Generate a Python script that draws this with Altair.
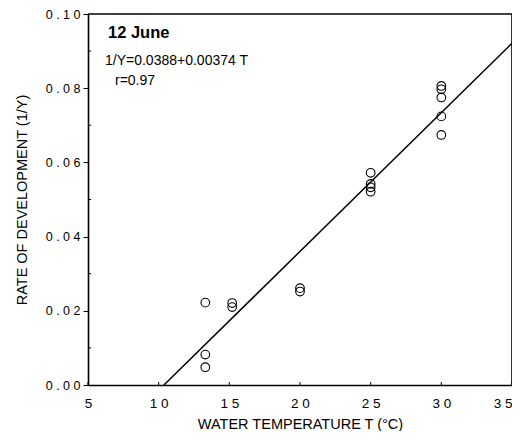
import altair as alt
import pandas as pd

temps = [13.3, 13.3, 13.3, 15.2, 15.2, 20, 20, 25, 25, 25, 25, 30, 30, 30, 30, 30]
rates = [0.0222, 0.0082, 0.0048, 0.0221, 0.0210, 0.0261, 0.0252,
         0.0572, 0.0542, 0.0533, 0.0521, 0.0806, 0.0797, 0.0775, 0.0724, 0.0674]
intercept = -0.0388
slope = 0.00374
line_t = [-intercept / slope, 35]
x_ticks = [5, 10, 15, 20, 25, 30, 35]
y_ticks = [0.0, 0.02, 0.04, 0.06, 0.08, 0.10]
y_minor = [0.01, 0.03, 0.05, 0.07, 0.09]

pts = pd.DataFrame({"T": temps, "R": rates})
ln = pd.DataFrame({"T": line_t, "R": [intercept + slope * t for t in line_t]})
xt = pd.DataFrame({"T": x_ticks})
ym = pd.DataFrame({"R": y_minor})

FONT = "Liberation Sans"
W, H = 425, 372
xs = alt.Scale(domain=[5, 35], nice=False, zero=False)
ys = alt.Scale(domain=[0, 0.10], nice=False)

spaced = "join(split(datum.label, ''), ' ')"

x_axis = alt.Axis(values=x_ticks, title="WATER TEMPERATURE T (°C)", grid=False,
                  tickSize=0, labelPadding=11, labelExpr=spaced,
                  labelAlign=alt.ExprRef("datum.value >= 35 ? 'right' : 'center'"),
                  labelFontSize=13.5, labelFont=FONT, labelFontWeight="normal",
                  labelColor="black", titleColor="black",
                  titleFont=FONT, titleFontSize=14.5, titleFontWeight="normal",
                  titlePadding=8, domain=True, domainColor="black", domainWidth=1.6,
                  labelFlush=False)
y_axis = alt.Axis(values=y_ticks, format=".2f", title="RATE OF DEVELOPMENT (1/Y)",
                  grid=False, tickSize=5, tickColor="black", labelPadding=3,
                  labelExpr=spaced, labelFontSize=12.5, labelFont=FONT,
                  labelColor="black", titleColor="black",
                  labelFontWeight="normal", titleFont=FONT, titleFontSize=14.5,
                  titleFontWeight="normal", titlePadding=16,
                  domain=True, domainColor="black", domainWidth=1.6)

points = alt.Chart(pts).mark_point(shape="circle", size=75, filled=False,
                                   color="black", strokeWidth=1.1, opacity=1).encode(
    x=alt.X("T:Q", scale=xs, axis=x_axis),
    y=alt.Y("R:Q", scale=ys, axis=y_axis),
)

line = alt.Chart(ln).mark_line(color="black", strokeWidth=1.5).encode(
    x=alt.X("T:Q", scale=xs), y=alt.Y("R:Q", scale=ys)
)

xtick = alt.Chart(xt).mark_rule(color="black", strokeWidth=1).encode(
    x=alt.X("T:Q", scale=xs), y=alt.value(H), y2=alt.value(H - 4)
)
ytick = alt.Chart(ym).mark_rule(color="black", strokeWidth=1).encode(
    y=alt.Y("R:Q", scale=ys), x=alt.value(0), x2=alt.value(3)
)

# top and right edges of the frame, drawn on the shared scales' ends
frame_top = alt.Chart(pd.DataFrame({"a": [5], "b": [35], "r": [0.10]})).mark_rule(
    color="black", strokeWidth=1.6
).encode(x=alt.X("a:Q", scale=xs), x2="b:Q", y=alt.Y("r:Q", scale=ys))
frame_right = alt.Chart(pd.DataFrame({"t": [35], "a": [0.0], "b": [0.10]})).mark_rule(
    color="black", strokeWidth=1.6
).encode(x=alt.X("t:Q", scale=xs), y=alt.Y("a:Q", scale=ys), y2="b:Q")

t1 = alt.Chart(pd.DataFrame({"t": ["12 June"]})).mark_text(
    align="left", baseline="alphabetic", font=FONT, fontSize=16.5, fontWeight="bold"
).encode(text="t:N", x=alt.value(20), y=alt.value(24))
t2 = alt.Chart(pd.DataFrame({"t": ["1/Y=0.0388+0.00374 T"]})).mark_text(
    align="left", baseline="alphabetic", font=FONT, fontSize=14
).encode(text="t:N", x=alt.value(17), y=alt.value(51))
t3 = alt.Chart(pd.DataFrame({"t": ["r=0.97"]})).mark_text(
    align="left", baseline="alphabetic", font=FONT, fontSize=14
).encode(text="t:N", x=alt.value(27), y=alt.value(71))

chart = alt.layer(points, line, xtick, ytick, frame_top, frame_right,
                  t1, t2, t3).properties(
    width=W - 1, height=H - 1,
    background="white",
    autosize=alt.AutoSizeParams(type="none"),
    padding={"left": 80, "top": 6, "right": 0, "bottom": 46},
).configure_view(stroke=None)

chart.save("out.html", embed_options={"renderer": "svg", "actions": False})
